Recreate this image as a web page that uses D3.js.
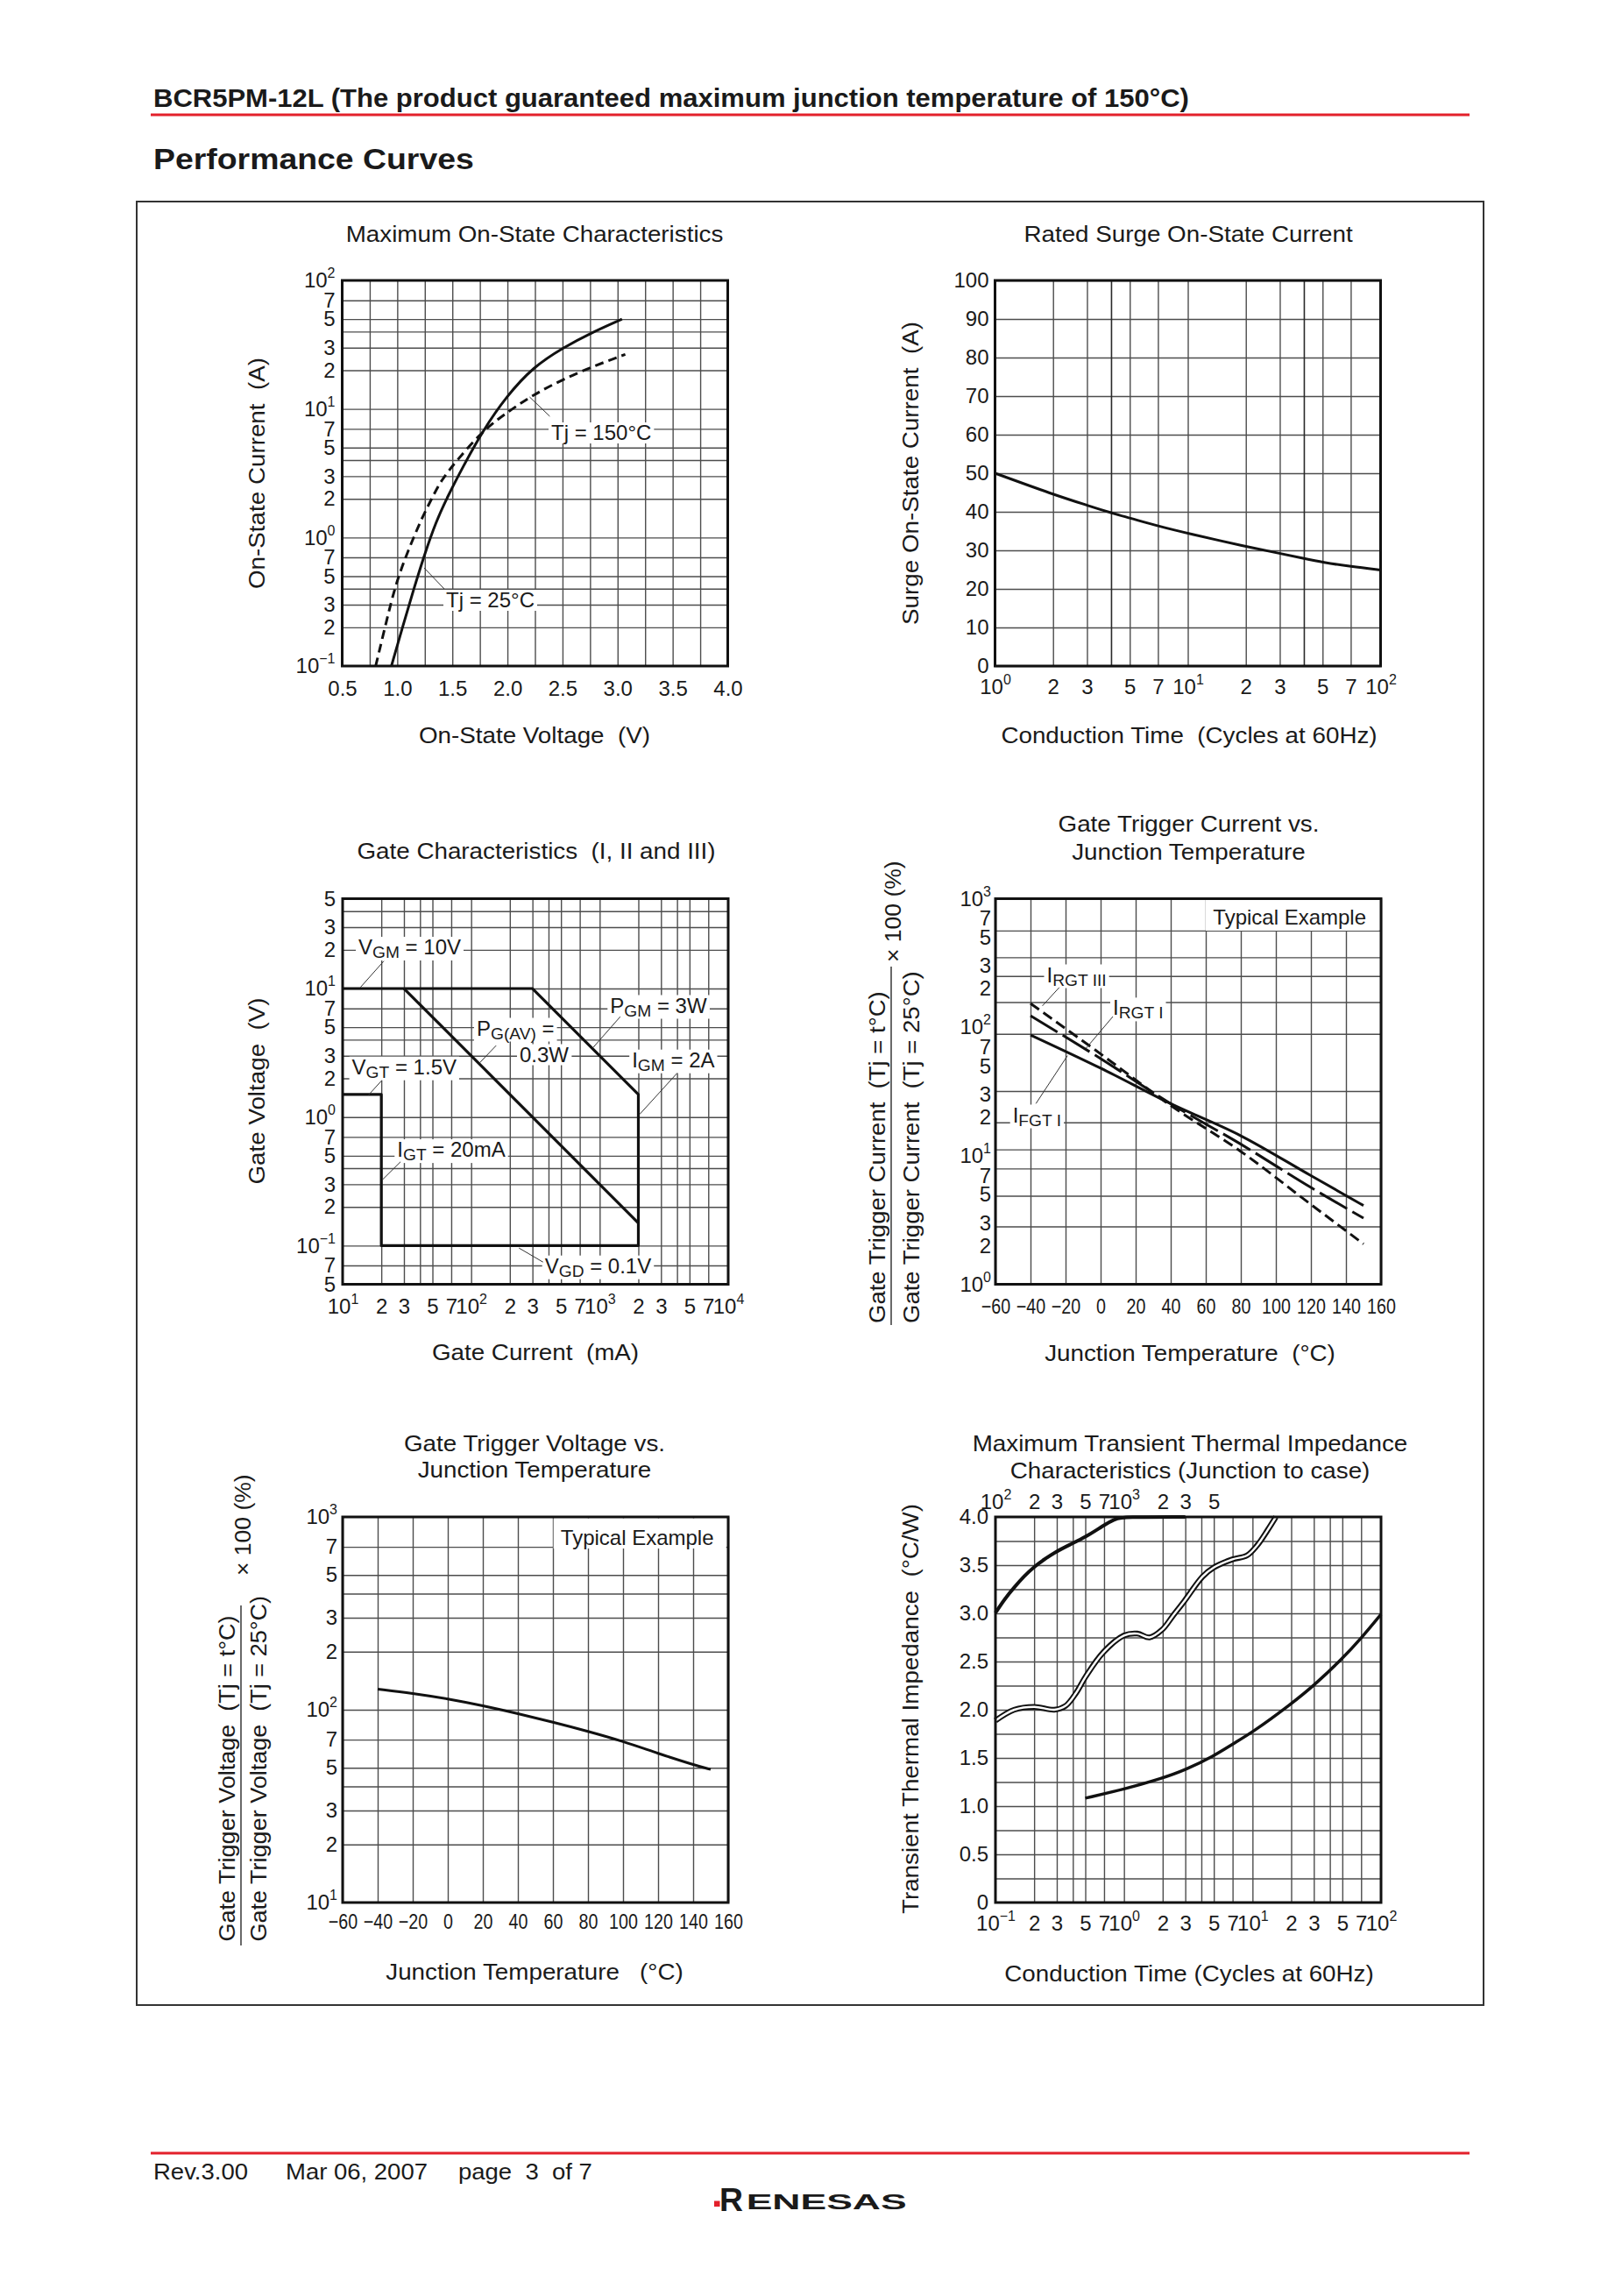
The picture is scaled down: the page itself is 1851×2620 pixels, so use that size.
<!DOCTYPE html>
<html><head><meta charset="utf-8">
<script src="https://cdn.jsdelivr.net/npm/d3@7"></script>
<style>
body{margin:0;background:#fff;}
svg text{font-family:"Liberation Sans",Arial,Helvetica,sans-serif;fill:#1a1a1a;white-space:pre;}
</style></head><body>
<svg id="page" width="1851" height="2620"></svg>
<script>
// ================= DATA =================
// Chart 1 : Maximum On-State Characteristics  [V, A]
const onStateTj25  = [[0.947,0.1],[1.05,0.204],[1.15,0.398],[1.246,0.73],[1.35,1.32],[1.459,2.1],[1.6,3.6],[1.78,6.85],[1.99,12.5],[2.235,21.3],[2.509,30.1],[2.752,38.8],[3.04,50]];
const onStateTj150 = [[0.804,0.1],[0.9,0.22],[0.987,0.44],[1.1,0.8],[1.23,1.46],[1.32,2.06],[1.40,2.8],[1.543,4.0],[1.78,6.85],[2.02,9.7],[2.235,12.9],[2.509,17.1],[2.81,22],[3.07,26.6]];
const onStateXTicks  = [0.5,1.0,1.5,2.0,2.5,3.0,3.5,4.0];
const onStateXLabels = ["0.5","1.0","1.5","2.0","2.5","3.0","3.5","4.0"];
const onStateXGrid   = [0.75,1.0,1.25,1.5,1.75,2.0,2.25,2.5,2.75,3.0,3.25,3.5,3.75];
const onStateYTicks  = [0.1,0.2,0.3,0.5,0.7,1,2,3,5,7,10,20,30,50,70,100];
const onStateYLabels = ["10^\u22121","2","3","5","7","10^0","2","3","5","7","10^1","2","3","5","7","10^2"];
const onStateYGrid   = [0.2,0.3,0.4,0.5,0.7,1,2,3,4,5,7,10,20,30,40,50,70];

// Chart 2 : Rated Surge On-State Current
const surgeCycles  = [1,2,3,4,5,7,10,20,30,40,50,70,100];
const surgeCurrent = [50,44.5,41.7,39.7,38.4,36.3,34.4,31.0,29.2,27.9,26.9,25.8,24.9];
const surgeXTicks  = [1,2,3,5,7,10,20,30,50,70,100];
const surgeXLabels = ["10^0","2","3","5","7","10^1","2","3","5","7","10^2"];
const surgeXGrid   = [2,3,5,7,10,20,30,50,70];
const surgeXGridDark = [4,40];
const surgeYTicks  = [0,10,20,30,40,50,60,70,80,90,100];
const surgeYLabels = ["0","10","20","30","40","50","60","70","80","90","100"];

// Chart 3 : Gate Characteristics  [mA, V]
const gateBoundary = [[10,10],[300,10],[2000,1.5],[2000,0.1],[20,0.1],[20,1.5],[10,1.5]];
const gatePGav     = [[30,10],[2000,0.15]];
const gateXTicks   = [10,20,30,50,70,100,200,300,500,700,1000,2000,3000,5000,7000,10000];
const gateXLabels  = ["10^1","2","3","5","7","10^2","2","3","5","7","10^3","2","3","5","7","10^4"];
const gateXGrid    = [20,30,40,50,70,100,200,300,400,500,700,1000,2000,3000,4000,5000,7000];
const gateYTicks   = [0.05,0.07,0.1,0.2,0.3,0.5,0.7,1,2,3,5,7,10,20,30,50];
const gateYLabels  = ["5","7","10^\u22121","2","3","5","7","10^0","2","3","5","7","10^1","2","3","5"];
const gateYGrid    = [0.07,0.1,0.2,0.3,0.4,0.5,0.7,1,2,3,4,5,7,10,20,30,40];

// Chart 4 : Gate Trigger Current vs. Junction Temperature  [°C, %]
const gtcTemp   = [-40,0,40,80,120,150];
const gtcIFGT1  = [87,48,25.4,14.3,7.0,4.1];
const gtcIRGT1  = [122.7,57,25.4,12.3,5.66,3.27];
const gtcIRGT3  = [153,62,24.6,10.8,4.18,2.06];
const tempTicks  = [-60,-40,-20,0,20,40,60,80,100,120,140,160];
const tempLabels = ["\u221260","\u221240","\u221220","0","20","40","60","80","100","120","140","160"];
const gtcYTicks  = [1,2,3,5,7,10,20,30,50,70,100,200,300,500,700,1000];
const gtcYLabels = ["10^0","2","3","5","7","10^1","2","3","5","7","10^2","2","3","5","7","10^3"];
const gtcYGrid   = [2.82,4.88,7.96,11.2,18.2,31.9,88.7,157,250,350,565];

// Chart 5 : Gate Trigger Voltage vs. Junction Temperature
const gtvTemp  = [-40,-20,0,20,40,60,80,100,120,140,150];
const gtvRatio = [128,121.7,114,105,95.5,86.3,77.3,68.6,59.3,51.9,49];
const gtvYTicks  = [10,20,30,50,70,100,200,300,500,700,1000];
const gtvYLabels = ["10^1","2","3","5","7","10^2","2","3","5","7","10^3"];
const gtvYGrid   = [20,30,40,50,70,100,200,300,400,500,700];

// Chart 6 : Maximum Transient Thermal Impedance (junction to case)
const ztcUpper = [[100,3.005],[118,3.15],[140,3.27],[167,3.385],[200,3.484],[240,3.56],[287,3.63],[380,3.714],[501,3.79],[690,3.91],[850,3.98],[1000,4.0],[3000,4.0]]; // top axis
const ztcWavy  = [[0.1,1.887],[0.14,2.0],[0.2,2.03],[0.287,2.0],[0.351,2.04],[0.422,2.17],[0.507,2.35],[0.69,2.595],[1.0,2.77],[1.27,2.79],[1.58,2.75],[1.98,2.83],[2.42,2.98],[2.96,3.13],[4.08,3.38],[4.99,3.475],[6.99,3.56],[9.04,3.60],[10.87,3.705],[13.06,3.86],[15.2,4.0]];
const ztcLower = [[0.5,1.083],[1,1.175],[2,1.29],[3,1.375],[5,1.52],[7,1.645],[10,1.765],[20,2.06],[30,2.25],[50,2.53],[70,2.74],[100,2.99]];
const ztcXTicks  = [0.1,0.2,0.3,0.5,0.7,1,2,3,5,7,10,20,30,50,70,100];
const ztcXLabels = ["10^\u22121","2","3","5","7","10^0","2","3","5","7","10^1","2","3","5","7","10^2"];
const ztcXGrid   = [0.2,0.3,0.4,0.5,0.7,1,2,3,4,5,7,10,20,30,40,50,70];
const ztcTopTicks  = [100,200,300,500,700,1000,2000,3000,5000];
const ztcTopLabels = ["10^2","2","3","5","7","10^3","2","3","5"];
const ztcYTicks  = [0,0.5,1,1.5,2,2.5,3,3.5,4];
const ztcYLabels = ["0","0.5","1.0","1.5","2.0","2.5","3.0","3.5","4.0"];
const ztcYGrid   = [0.25,0.5,0.75,1,1.25,1.5,1.75,2,2.25,2.5,2.75,3,3.25,3.5,3.75];

// ================= DRAWING =================
const INK = "#1a1a1a", RED = "#e3202b", GRID = "#4d4d4d";
const svg = d3.select("#page");
svg.append("rect").attr("width",1851).attr("height",2620).attr("fill","#fff");

function txt(parent, x, y, parts, o = {}) {
  const size = o.size || 24, sx = o.sx || 1, rot = o.rot || 0;
  const g = parent.append("g").attr("transform", `translate(${x},${y}) rotate(${rot}) scale(${sx},1)`);
  const t = g.append("text").attr("font-size", size).attr("text-anchor", o.anchor || "start")
    .attr("font-weight", o.weight || "normal").attr("fill", o.fill || INK);
  if (typeof parts === "string") parts = [{t: parts}];
  let shift = 0;
  parts.forEach(p => {
    const ts = t.append("tspan").text(p.t);
    if (p.sub) { ts.attr("font-size", size * 0.8).attr("dy", 4 - shift); shift = 4; }
    else if (shift) { ts.attr("dy", -shift); shift = 0; }
  });
  if (o.bg) {
    const b = t.node().getBBox();
    g.insert("rect", "text").attr("x", b.x - 3).attr("y", b.y + 2).attr("width", b.width + 6)
      .attr("height", b.height - 3).attr("fill", "#fff");
  }
  return g;
}
function leader(x1, y1, x2, y2) {
  svg.append("line").attr("x1", x1).attr("y1", y1).attr("x2", x2).attr("y2", y2)
    .attr("stroke", "#333").attr("stroke-width", 1);
}
function styleLabels(a, o = {}) {
  a.select(".domain").remove();
  a.attr("font-family", null).attr("font-size", null);
  a.selectAll("text").attr("fill", INK).attr("font-size", 24).each(function () {
    const t = d3.select(this), s = t.text();
    if (s.includes("^")) {
      const [b, e] = s.split("^");
      t.text(null);
      t.append("tspan").text(b);
      t.append("tspan").attr("font-size", 16).attr("dy", -11).text(e);
    }
  });
  if (o.sx) a.selectAll("text").attr("transform", `scale(${o.sx},1)`);
}
const W = 440, H = 440;
function panel(o) {
  const g = svg.append("g").attr("transform", `translate(${o.x0},${o.y0})`);
  const x = o.x.range([0, W]), y = o.y.range([H, 0]);
  const gx = g.append("g").attr("transform", `translate(0,${H})`)
    .call(d3.axisBottom(x).tickValues(o.xGrid).tickSize(-H).tickFormat(""));
  const gy = g.append("g").call(d3.axisLeft(y).tickValues(o.yGrid).tickSize(-W).tickFormat(""));
  [gx, gy].forEach(a => { a.select(".domain").remove(); a.selectAll("line").attr("stroke", GRID).attr("stroke-width", 1.4); });
  if (o.xGridDark) {
    const gd = g.append("g").attr("transform", `translate(0,${H})`)
      .call(d3.axisBottom(x).tickValues(o.xGridDark).tickSize(-H).tickFormat(""));
    gd.select(".domain").remove(); gd.selectAll("line").attr("stroke", "#2a2a2a").attr("stroke-width", 1.6);
  }
  const lx = g.append("g").attr("transform", `translate(0,${H})`)
    .call(d3.axisBottom(x).tickValues(o.xTicks).tickFormat((d, i) => o.xLabels[i]).tickSize(0).tickPadding(o.xPad || 16));
  styleLabels(lx, {sx: o.xsx});
  const ly = g.append("g")
    .call(d3.axisLeft(y).tickValues(o.yTicks).tickFormat((d, i) => o.yLabels[i]).tickSize(0).tickPadding(o.yPad || 8));
  styleLabels(ly);
  const plot = g.append("g");
  const frame = g.append("rect").attr("width", W).attr("height", H).attr("fill", "none")
    .attr("stroke", "#111").attr("stroke-width", 3);
  return {g, x, y, plot, frame};
}
function curve(p, pts, o = {}) {
  const line = d3.line().x(d => p.x(d[0])).y(d => p.y(d[1])).curve(o.curve || d3.curveMonotoneX);
  return p.plot.append("path").attr("d", line(pts)).attr("fill", "none")
    .attr("stroke", o.stroke || "#111").attr("stroke-width", o.width || 3)
    .attr("stroke-dasharray", o.dash || null).attr("stroke-linejoin", "round");
}
const TS = {size: 25.5, sx: 1.09, anchor: "middle"};

// ---------- page header ----------
txt(svg, 175, 122, "BCR5PM-12L (The product guaranteed maximum junction temperature of 150\u00b0C)", {size: 29, sx: 1.07, weight: "bold"});
svg.append("line").attr("x1", 172).attr("x2", 1677).attr("y1", 131).attr("y2", 131).attr("stroke", RED).attr("stroke-width", 3);
txt(svg, 175, 193, "Performance Curves", {size: 34, sx: 1.1, weight: "bold"});
svg.append("rect").attr("x", 156).attr("y", 230).attr("width", 1537).attr("height", 2058)
  .attr("fill", "none").attr("stroke", "#333").attr("stroke-width", 2);

// ---------- Chart 1 ----------
{
  const p = panel({x0: 390.5, y0: 320, x: d3.scaleLinear().domain([0.5, 4.0]), y: d3.scaleLog().domain([0.1, 100]),
    xGrid: onStateXGrid, yGrid: onStateYGrid, xTicks: onStateXTicks, xLabels: onStateXLabels,
    yTicks: onStateYTicks, yLabels: onStateYLabels, xPad: 17, yPad: 8});
  curve(p, onStateTj150, {dash: "10,6", curve: d3.curveBasis});
  curve(p, onStateTj25, {curve: d3.curveBasis});
  txt(svg, 629, 502, "Tj = 150\u00b0C", {size: 24, bg: true});
  leader(604.4, 453, 627.4, 475);
  txt(svg, 509, 693, "Tj = 25\u00b0C", {size: 24, bg: true});
  leader(484, 648, 507, 672);
  txt(svg, 610, 276, "Maximum On-State Characteristics", TS);
  txt(svg, 610, 848, "On-State Voltage  (V)", TS);
  txt(svg, 302, 540, "On-State Current  (A)", {...TS, rot: -90});
}
// ---------- Chart 2 ----------
{
  const p = panel({x0: 1135.5, y0: 320, x: d3.scaleLog().domain([1, 100]), y: d3.scaleLinear().domain([0, 100]),
    xGrid: surgeXGrid, xGridDark: surgeXGridDark, yGrid: surgeYTicks, xTicks: surgeXTicks, xLabels: surgeXLabels,
    yTicks: surgeYTicks, yLabels: surgeYLabels, xPad: 15, yPad: 7});
  curve(p, surgeCycles.map((c, i) => [c, surgeCurrent[i]]), {curve: d3.curveBasis});
  txt(svg, 1356, 276, "Rated Surge On-State Current", TS);
  txt(svg, 1357, 848, "Conduction Time  (Cycles at 60Hz)", TS);
  txt(svg, 1048, 540, "Surge On-State Current  (A)", {...TS, rot: -90});
}
// ---------- Chart 3 ----------
{
  const p = panel({x0: 391, y0: 1025.5, x: d3.scaleLog().domain([10, 10000]), y: d3.scaleLog().domain([0.05, 50]),
    xGrid: gateXGrid, yGrid: gateYGrid, xTicks: gateXTicks, xLabels: gateXLabels,
    yTicks: gateYTicks, yLabels: gateYLabels, xPad: 16, yPad: 8});
  curve(p, gateBoundary, {curve: d3.curveLinear, width: 3.2});
  curve(p, gatePGav, {curve: d3.curveLinear, width: 3.2});
  const s = {size: 24, bg: true};
  txt(svg, 409, 1089, [{t: "V"}, {t: "GM", sub: true}, {t: " = 10V"}], s);
  leader(438, 1096.7, 411.2, 1126.8);
  txt(svg, 696.3, 1155.5, [{t: "P"}, {t: "GM", sub: true}, {t: " = 3W"}], s);
  leader(707.8, 1160.2, 677.1, 1195.1);
  txt(svg, 544, 1181.5, [{t: "P"}, {t: "G(AV)", sub: true}, {t: " ="}], s);
  txt(svg, 593, 1211.5, "0.3W", s);
  leader(566.2, 1193.1, 547, 1213.2);
  txt(svg, 721.2, 1217.7, [{t: "I"}, {t: "GM", sub: true}, {t: " = 2A"}], s);
  leader(772.8, 1224.5, 730, 1271.5);
  txt(svg, 401.6, 1225.7, [{t: "V"}, {t: "GT", sub: true}, {t: " = 1.5V"}], s);
  leader(435.3, 1233.3, 420.7, 1249.4);
  txt(svg, 453.3, 1320.1, [{t: "I"}, {t: "GT", sub: true}, {t: " = 20mA"}], s);
  leader(457.1, 1325.7, 436.8, 1345.8);
  txt(svg, 621.7, 1452.7, [{t: "V"}, {t: "GD", sub: true}, {t: " = 0.1V"}], s);
  leader(619.7, 1440.2, 592.2, 1424.1);
  txt(svg, 612, 980, "Gate Characteristics  (I, II and III)", TS);
  txt(svg, 611, 1552, "Gate Current  (mA)", TS);
  txt(svg, 302, 1245, "Gate Voltage  (V)", {...TS, rot: -90});
}
// ---------- Chart 4 ----------
{
  const p = panel({x0: 1136, y0: 1025.5, x: d3.scaleLinear().domain([-60, 160]), y: d3.scaleLog().domain([1, 1000]),
    xGrid: tempTicks, yGrid: gtcYGrid, xTicks: tempTicks, xLabels: tempLabels, xsx: 0.82,
    yTicks: gtcYTicks, yLabels: gtcYLabels, xPad: 16, yPad: 5});
  p.plot.append("rect").attr("x", 240).attr("y", 1.5).attr("width", 197.5).attr("height", 35).attr("fill", "#fff");
  curve(p, gtcTemp.map((t, i) => [t, gtcIFGT1[i]]));
  curve(p, gtcTemp.map((t, i) => [t, gtcIRGT1[i]]), {dash: "36,7"});
  curve(p, gtcTemp.map((t, i) => [t, gtcIRGT3[i]]), {dash: "12,6"});
  txt(svg, 1384.3, 1055, "Typical Example", {size: 24});
  const s = {size: 24, bg: true};
  txt(svg, 1194.5, 1120.5, [{t: "I"}, {t: "RGT III", sub: true}], s);
  leader(1208.8, 1126.8, 1189.6, 1147.8);
  txt(svg, 1270, 1158.4, [{t: "I"}, {t: "RGT I", sub: true}], s);
  leader(1270, 1160, 1239.4, 1196.2);
  txt(svg, 1155.7, 1280.5, [{t: "I"}, {t: "FGT I", sub: true}], s);
  leader(1182.2, 1259.3, 1218.2, 1204.6);
  txt(svg, 1356.5, 949, "Gate Trigger Current vs.", TS);
  txt(svg, 1356.5, 981, "Junction Temperature", TS);
  txt(svg, 1358, 1553, "Junction Temperature  (\u00b0C)", TS);
  const F = {size: 25.5, sx: 1.08, rot: -90, anchor: "start"};
  txt(svg, 1010, 1510, "Gate Trigger Current  (Tj = t\u00b0C)", F);
  txt(svg, 1048.5, 1510, "Gate Trigger Current  (Tj = 25\u00b0C)", F);
  svg.append("line").attr("x1", 1017).attr("x2", 1017).attr("y1", 1103).attr("y2", 1512).attr("stroke", INK).attr("stroke-width", 1.3);
  txt(svg, 1028, 1098, "\u00d7 100 (%)", {size: 25, sx: 1.06, rot: -90, anchor: "start"});
}
// ---------- Chart 5 ----------
{
  const p = panel({x0: 391, y0: 1731, x: d3.scaleLinear().domain([-60, 160]), y: d3.scaleLog().domain([10, 1000]),
    xGrid: tempTicks, yGrid: gtvYGrid, xTicks: tempTicks, xLabels: tempLabels, xsx: 0.82,
    yTicks: gtvYTicks, yLabels: gtvYLabels, xPad: 13, yPad: 6});
  p.plot.append("rect").attr("x", 240.7).attr("y", 1.5).attr("width", 197).attr("height", 34.5).attr("fill", "#fff");
  curve(p, gtvTemp.map((t, i) => [t, gtvRatio[i]]), {curve: d3.curveBasis});
  txt(svg, 639.8, 1763, "Typical Example", {size: 24});
  txt(svg, 610, 1656, "Gate Trigger Voltage vs.", TS);
  txt(svg, 610, 1686, "Junction Temperature", TS);
  txt(svg, 610, 2259, "Junction Temperature   (\u00b0C)", TS);
  const F = {size: 25.5, sx: 1.06, rot: -90, anchor: "start"};
  txt(svg, 267.5, 2215.5, "Gate Trigger Voltage  (Tj = t\u00b0C)", F);
  txt(svg, 303.5, 2215.5, "Gate Trigger Voltage  (Tj = 25\u00b0C)", F);
  svg.append("line").attr("x1", 275).attr("x2", 275).attr("y1", 1832).attr("y2", 2220).attr("stroke", INK).attr("stroke-width", 1.3);
  txt(svg, 286, 1798, "\u00d7 100 (%)", {size: 25, sx: 1.06, rot: -90, anchor: "start"});
}
// ---------- Chart 6 ----------
{
  const p = panel({x0: 1136, y0: 1731, x: d3.scaleLog().domain([0.1, 100]), y: d3.scaleLinear().domain([0, 4]),
    xGrid: ztcXGrid, yGrid: ztcYGrid, xTicks: ztcXTicks, xLabels: ztcXLabels,
    yTicks: ztcYTicks, yLabels: ztcYLabels, xPad: 15, yPad: 8});
  const xTop = d3.scaleLog().domain([100, 100000]).range([0, W]);
  const lt = p.g.append("g").call(d3.axisTop(xTop).tickValues(ztcTopTicks).tickFormat((d, i) => ztcTopLabels[i]).tickSize(0).tickPadding(9));
  styleLabels(lt);
  const upLine = d3.line().x(d => xTop(d[0])).y(d => p.y(d[1])).curve(d3.curveBasis);
  p.g.append("path").attr("d", upLine(ztcUpper)).attr("fill", "none").attr("stroke", "#111").attr("stroke-width", 4);
  curve(p, ztcWavy, {width: 6.5, curve: d3.curveCatmullRom});
  curve(p, ztcWavy, {width: 2.4, stroke: "#fff", curve: d3.curveCatmullRom});
  curve(p, ztcLower, {width: 3.5, curve: d3.curveBasis});
  txt(svg, 1358, 1656, "Maximum Transient Thermal Impedance", TS);
  txt(svg, 1358, 1687, "Characteristics (Junction to case)", TS);
  txt(svg, 1357, 2261, "Conduction Time (Cycles at 60Hz)", TS);
  txt(svg, 1048, 1950, "Transient Thermal Impedance  (\u00b0C/W)", {...TS, rot: -90});
}

// ---------- footer ----------
svg.append("line").attr("x1", 172).attr("x2", 1677).attr("y1", 2457).attr("y2", 2457).attr("stroke", RED).attr("stroke-width", 3);
txt(svg, 175, 2487, "Rev.3.00", {size: 25, sx: 1.1});
txt(svg, 326, 2487, "Mar 06, 2007", {size: 25, sx: 1.1});
txt(svg, 523, 2487, "page  3  of 7", {size: 25, sx: 1.1});
svg.append("rect").attr("x", 815).attr("y", 2511.5).attr("width", 6.5).attr("height", 6.5).attr("fill", RED);
svg.append("text").attr("x", 821).attr("y", 2523).attr("font-size", 37).attr("font-weight", "bold")
  .attr("fill", RED).attr("textLength", 27).attr("lengthAdjust", "spacingAndGlyphs").text("R");
svg.append("text").attr("x", 851.7).attr("y", 2520.5).attr("font-size", 23).attr("font-weight", "bold")
  .attr("fill", RED).attr("textLength", 183).attr("lengthAdjust", "spacingAndGlyphs").text("ENESAS");
</script>
</body></html>
